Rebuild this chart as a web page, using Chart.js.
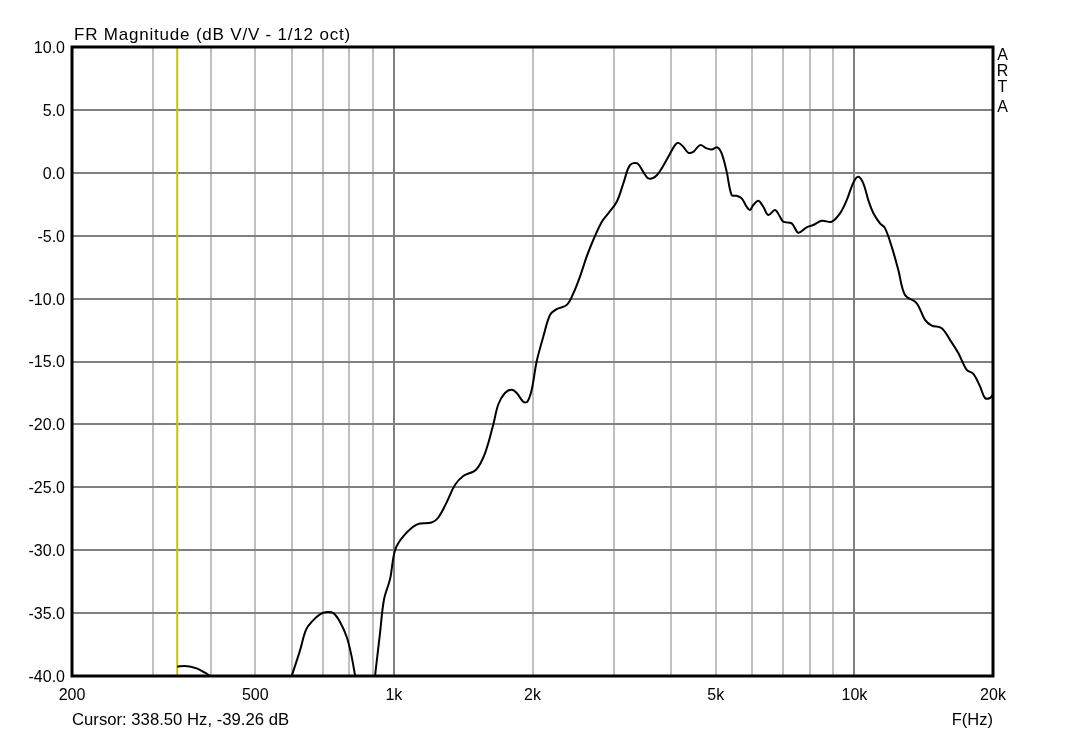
<!DOCTYPE html>
<html>
<head>
<meta charset="utf-8">
<script src="https://cdn.jsdelivr.net/npm/chart.js@4/dist/chart.umd.min.js"></script>
<style>
  html, body { margin: 0; padding: 0; background: #fff; }
  canvas { display: block; }
</style>
</head>
<body>
<canvas id="grafico" width="1065" height="734"></canvas>
<script>
// FR magnitude, 1/12 oct smoothing (null = below -40 dB, not drawn)
const freqs = [
  338.5, 352, 373, 389, 399,
  450,
  600, 625, 645, 667, 691, 715, 739, 764, 790, 808, 824,
  870,
  910, 933, 952, 981, 1006, 1048, 1121, 1208, 1249, 1302, 1358, 1415, 1508, 1577,
  1644, 1686, 1743, 1803, 1848, 1910, 1949, 1992, 2042, 2112, 2183, 2257, 2374,
  2454, 2536, 2622, 2710, 2829, 2922, 3048, 3150, 3256, 3378, 3480, 3568, 3690,
  3816, 3944, 4078, 4147, 4252, 4360, 4470, 4622, 4779, 4900, 5039, 5150, 5281,
  5415, 5552, 5693, 5837, 5934, 6033, 6186, 6343, 6503, 6724, 6894, 7008, 7310,
  7555, 7877, 8144, 8492, 8928, 9307, 9624, 9947, 10198, 10456, 10721, 10992,
  11366, 11654, 12050, 12458, 12882, 13661, 14238, 14724, 15476, 16131, 16814,
  17538, 18127, 18744, 19216, 19702, 20000
];
const magnitud = [
  -39.26, -39.2, -39.39, -39.74, -40.0,
  null,
  -40.0, -38.0, -36.3, -35.6, -35.1, -34.92, -35.0, -35.7, -36.9, -38.3, -40.0,
  null,
  -40.0, -36.6, -33.9, -32.3, -30.0, -28.9, -27.96, -27.8, -27.4, -26.2, -24.8, -24.1, -23.6, -22.3,
  -20.0, -18.4, -17.5, -17.25, -17.5, -18.2, -18.2, -17.25, -15.0, -13.0, -11.3, -10.84, -10.5,
  -9.57, -8.25, -6.67, -5.34, -3.89, -3.22, -2.30, -0.84, 0.61, 0.75, 0.08, -0.44, -0.32,
  0.35, 1.27, 2.2, 2.38, 2.06, 1.59, 1.67, 2.2, 1.94, 1.86, 2.02, 1.54, 0.08,
  -1.77, -1.83, -2.03, -2.70, -2.96, -2.56, -2.22, -2.70, -3.36, -2.96, -3.49, -3.89, -4.02,
  -4.76, -4.33, -4.15, -3.81, -3.89, -3.22, -2.17, -0.79, -0.32, -0.84, -2.17, -3.2,
  -4.02, -4.4, -5.87, -7.72, -9.71, -10.37, -11.69, -12.14, -12.35, -13.28, -14.33,
  -15.66, -15.98, -16.98, -17.90, -17.90, -17.6
];

const cursorHz = 338.5;
const cursorDb = -39.26;

const gridFreqs = [200, 300, 400, 500, 600, 700, 800, 900,
  1000, 2000, 3000, 4000, 5000, 6000, 7000, 8000, 9000, 10000, 20000];
const majorFreqs = [1000, 10000];
const etiquetas = { 200: "200", 500: "500", 1000: "1k", 2000: "2k", 5000: "5k", 10000: "10k", 20000: "20k" };

const fuente = "'Liberation Sans', Arial, sans-serif";

const marcoYTextos = {
  id: "marcoYTextos",
  afterDatasetsDraw(chart) {
    const { ctx, chartArea: a } = chart;
    ctx.save();
    ctx.strokeStyle = "#000";
    ctx.lineWidth = 3;
    ctx.strokeRect(a.left, a.top, a.right - a.left, a.bottom - a.top);
    ctx.restore();
  },
  afterDraw(chart) {
    const { ctx, chartArea: a } = chart;
    ctx.save();
    ctx.fillStyle = "#000";
    ctx.textBaseline = "alphabetic";
    ctx.textAlign = "left";
    ctx.font = "17px " + fuente;
    ctx.letterSpacing = "0.8px";
    ctx.fillText("FR Magnitude (dB V/V - 1/12 oct)", a.left + 2, 40);
    ctx.letterSpacing = "0px";
    ctx.font = "16.7px " + fuente;
    ctx.fillText("Cursor: " + cursorHz.toFixed(2) + " Hz, " + cursorDb.toFixed(2) + " dB", a.left, 725);
    ctx.font = "16px " + fuente;
    ctx.textAlign = "center";
    const baseY = [60, 76, 91.5, 112];
    "ARTA".split("").forEach((c, i) => ctx.fillText(c, a.right + 9.5, baseY[i]));
    ctx.restore();
  }
};

new Chart(document.getElementById("grafico"), {
  type: "line",
  data: {
    datasets: [
      {
        label: "FR",
        data: freqs.map((f, i) => ({ x: f, y: magnitud[i] })),
        borderColor: "#000",
        borderWidth: 2,
        pointRadius: 0,
        tension: 0.35,
        spanGaps: false,
        fill: false
      },
      {
        label: "Cursor",
        data: [{ x: cursorHz, y: -40 }, { x: cursorHz, y: 10 }],
        borderColor: "#c4c400",
        borderWidth: 2,
        pointRadius: 0,
        fill: false
      }
    ]
  },
  plugins: [marcoYTextos],
  options: {
    responsive: false,
    animation: false,
    events: [],
    layout: { padding: { top: 47, left: 0, right: 72, bottom: 0 } },
    plugins: {
      legend: { display: false },
      tooltip: { enabled: false }
    },
    scales: {
      x: {
        type: "logarithmic",
        min: 200,
        max: 20000,
        afterBuildTicks(scale) {
          scale.ticks = gridFreqs.map(v => ({ value: v }));
        },
        afterFit(scale) { scale.height = 58; },
        border: { display: false },
        grid: {
          drawTicks: false,
          lineWidth: 2,
          color: ctx => (ctx.tick && majorFreqs.includes(ctx.tick.value)) ? "#808080" : "#c0c0c0"
        },
        ticks: {
          autoSkip: false,
          maxRotation: 0,
          padding: 9.5,
          color: "#000",
          font: { family: fuente, size: 16 },
          callback: v => etiquetas[v] || ""
        },
        title: {
          display: true,
          text: "F(Hz)",
          align: "end",
          color: "#000",
          font: { family: fuente, size: 16.5 },
          padding: { top: 0, bottom: 4 }
        }
      },
      y: {
        min: -40,
        max: 10,
        afterFit(scale) { scale.width = 72; },
        border: { display: false },
        grid: { drawTicks: false, lineWidth: 2, color: "#808080" },
        ticks: {
          stepSize: 5,
          padding: 7,
          labelOffset: 1.5,
          color: "#000",
          font: { family: fuente, size: 16 },
          callback: v => v.toFixed(1)
        }
      }
    }
  }
});
</script>
</body>
</html>
